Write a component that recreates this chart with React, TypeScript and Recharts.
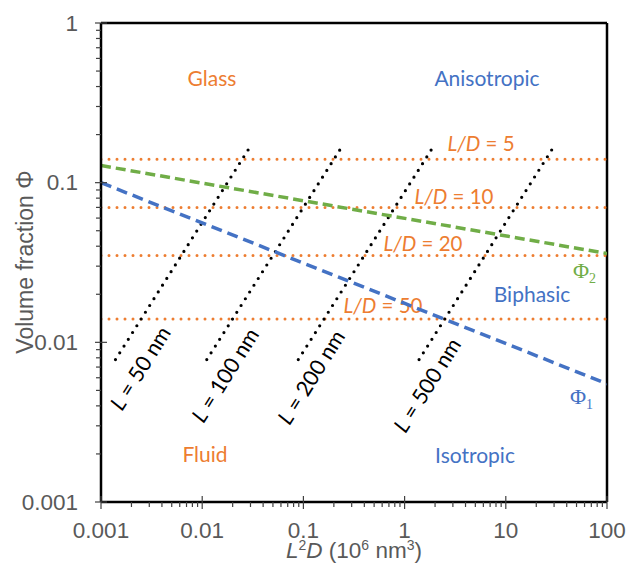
import { LineChart, Line, XAxis, YAxis, ReferenceLine, Customized } from "recharts";

// axis ticks (log decades + minor steps)
const xMajor = [0.001, 0.01, 0.1, 1, 10, 100];
const yMajor = [0.001, 0.01, 0.1, 1];
const minorSteps = [2, 3, 4, 5, 6, 7, 8, 9];

// phase boundaries
const phi1 = [
  { x: 0.001, y: 0.1 },
  { x: 100, y: 0.0055 },
];
const phi2 = [
  { x: 0.001, y: 0.128 },
  { x: 100, y: 0.036 },
];

// constant aspect ratio lines (L/D)
const aspectRatios = [5, 10, 20, 50];
const aspectPhi = [0.14, 0.07, 0.035, 0.014];

// constant rod length lines (L, nm)
const rodLengths = [50, 100, 200, 500];
const rodLines = [
  [
    { x: 0.00139, y: 0.0078 },
    { x: 0.031, y: 0.175 },
  ],
  [
    { x: 0.0111, y: 0.0078 },
    { x: 0.25, y: 0.175 },
  ],
  [
    { x: 0.089, y: 0.0078 },
    { x: 2.0, y: 0.175 },
  ],
  [
    { x: 1.39, y: 0.0078 },
    { x: 31, y: 0.175 },
  ],
];

const ORANGE = "#ED7D31";
const BLUE = "#4472C4";
const GREEN = "#70AD47";
const GRAY = "#595959";
const LABEL_FONT = "Lato, 'Open Sans', sans-serif";
const AXIS_FONT = "'Liberation Sans', Arial, sans-serif";

const withMinors = (majors: number[]) => {
  const out: number[] = [];
  majors.forEach((m, i) => {
    out.push(m);
    if (i < majors.length - 1) minorSteps.forEach((s) => out.push(+(m * s).toPrecision(3)));
  });
  return out;
};

const xTicks = withMinors(xMajor);
const yTicks = withMinors(yMajor);

const isMajor = (v: number) => Math.abs(Math.log10(v) - Math.round(Math.log10(v))) < 1e-6;

const XTick = (props: any) => {
  const { x, y, payload } = props;
  const major = isMajor(payload.value);
  return (
    <g>
      {major ? (
        <line x1={x} x2={x} y1={y - 6} y2={y + 7} stroke="#404040" strokeWidth={1.2} />
      ) : (
        <line x1={x} x2={x} y1={y} y2={y + 5} stroke="#404040" strokeWidth={1.2} />
      )}
      {major && (
        <text x={x} y={y + 36} textAnchor="middle" fill={GRAY} fontSize={22.5} fontFamily={AXIS_FONT}>
          {String(payload.value)}
        </text>
      )}
    </g>
  );
};

const YTick = (props: any) => {
  const { x, y, payload } = props;
  const major = isMajor(payload.value);
  return (
    <g>
      {major ? (
        <line x1={x - 6} x2={x + 6} y1={y} y2={y} stroke="#404040" strokeWidth={1.2} />
      ) : (
        <line x1={x - 5} x2={x} y1={y} y2={y} stroke="#404040" strokeWidth={1.2} />
      )}
      {major && (
        <text x={x - 23} y={y} textAnchor="end" dominantBaseline="central" fill={GRAY} fontSize={22.5} fontFamily={AXIS_FONT}>
          {String(payload.value)}
        </text>
      )}
    </g>
  );
};

const rodLabelPos = [
  [140, 368],
  [225, 375],
  [311, 377],
  [427, 385],
];
const aspectLabelPos = [
  [481, 143],
  [454, 196],
  [423, 243],
  [383, 305],
];

const Annotations = () => (
  <g fontFamily={LABEL_FONT}>
    <text x={212} y={77} textAnchor="middle" dominantBaseline="central" fill={ORANGE} fontSize={21}>Glass</text>
    <text x={487} y={77} textAnchor="middle" dominantBaseline="central" fill={BLUE} fontSize={21}>Anisotropic</text>
    <text x={205} y={453} textAnchor="middle" dominantBaseline="central" fill={ORANGE} fontSize={21}>Fluid</text>
    <text x={475} y={454} textAnchor="middle" dominantBaseline="central" fill={BLUE} fontSize={21}>Isotropic</text>
    <text x={532} y={293} textAnchor="middle" dominantBaseline="central" fill={BLUE} fontSize={21}>Biphasic</text>

    {/* white veil behind L/D = 50 */}
    <rect x={337} y={283} width={105} height={33} fill="#fff" fillOpacity={0.5} />

    {aspectRatios.map((r, i) => (
      <text
        key={r}
        x={aspectLabelPos[i][0]}
        y={aspectLabelPos[i][1]}
        textAnchor="middle"
        dominantBaseline="central"
        fill={ORANGE}
        fontSize={20.5}
      >
        <tspan fontStyle="italic">L/D</tspan>
        {` = ${r}`}
      </text>
    ))}

    {rodLengths.map((l, i) => (
      <text
        key={l}
        transform={`translate(${rodLabelPos[i][0]},${rodLabelPos[i][1]}) rotate(-58)`}
        textAnchor="middle"
        dominantBaseline="central"
        fill="#000"
        fontSize={21.5}
      >
        <tspan fontStyle="italic">L</tspan>
        {` = ${l} nm`}
      </text>
    ))}

    <text x={573} y={278} fill={GREEN} fontSize={22} fontFamily="'Liberation Serif', 'DejaVu Serif', serif">
      Φ<tspan fontSize={14} dy={5}>2</tspan>
    </text>
    <text x={570} y={404} fill={BLUE} fontSize={22} fontFamily="'Liberation Serif', 'DejaVu Serif', serif">
      Φ<tspan fontSize={14} dy={5}>1</tspan>
    </text>

    <text
      transform="translate(25,262) rotate(-90)"
      textAnchor="middle"
      dominantBaseline="central"
      fill={GRAY}
      fontSize={23}
      fontFamily={AXIS_FONT}
    >
      Volume fraction Φ
    </text>
    <text x={354} y={558} textAnchor="middle" fill={GRAY} fontSize={22.5} fontFamily={AXIS_FONT}>
      <tspan fontStyle="italic">L</tspan>
      <tspan fontSize={14} dy={-8}>2</tspan>
      <tspan fontStyle="italic" dy={8}>D</tspan>
      {" (10"}
      <tspan fontSize={14} dy={-8}>6</tspan>
      <tspan dy={8}>{" nm"}</tspan>
      <tspan fontSize={14} dy={-8}>3</tspan>
      <tspan dy={8}>)</tspan>
    </text>
  </g>
);

export default function App() {
  return (
    <div style={{ position: "absolute", left: 0, top: 0, background: "#fff" }}>
      <LineChart width={628} height={563} margin={{ top: 23, right: 21, left: 0, bottom: 0 }}>
        <XAxis
          dataKey="x"
          type="number"
          scale="log"
          domain={[0.001, 100]}
          ticks={xTicks}
          interval={0}
          allowDataOverflow
          height={61}
          tickSize={0}
          tickMargin={0}
          tickLine={false}
          axisLine={{ stroke: "#000", strokeWidth: 2.5 }}
          tick={<XTick />}
        />
        <YAxis
          dataKey="y"
          type="number"
          scale="log"
          domain={[0.001, 1]}
          ticks={yTicks}
          interval={0}
          allowDataOverflow
          width={101}
          tickSize={0}
          tickMargin={0}
          tickLine={false}
          axisLine={{ stroke: "#000", strokeWidth: 2.5 }}
          tick={<YTick />}
        />
        <ReferenceLine y={1} stroke="#000" strokeWidth={2.5} />
        <ReferenceLine x={100} stroke="#000" strokeWidth={2.5} />

        {aspectPhi.map((p, i) => (
          <Line
            key={`ar-${aspectRatios[i]}`}
            data={[
              { x: xMajor[0], y: p },
              { x: xMajor[xMajor.length - 1], y: p },
            ]}
            dataKey="y"
            stroke={ORANGE}
            strokeWidth={3}
            strokeDasharray="0 8"
            strokeLinecap="round"
            dot={false}
            activeDot={false}
            isAnimationActive={false}
          />
        ))}

        {rodLines.map((d, i) => (
          <Line
            key={`rod-${rodLengths[i]}`}
            data={d}
            dataKey="y"
            stroke="#000"
            strokeWidth={3.2}
            strokeDasharray="0 8"
            strokeLinecap="round"
            dot={false}
            activeDot={false}
            isAnimationActive={false}
          />
        ))}

        <Line
          data={phi2}
          dataKey="y"
          stroke={GREEN}
          strokeWidth={3.5}
          strokeDasharray="10 5"
          dot={false}
          activeDot={false}
          isAnimationActive={false}
        />
        <Line
          data={phi1}
          dataKey="y"
          stroke={BLUE}
          strokeWidth={3.5}
          strokeDasharray="11 6"
          dot={false}
          activeDot={false}
          isAnimationActive={false}
        />
        <Customized component={Annotations} />
      </LineChart>
    </div>
  );
}
